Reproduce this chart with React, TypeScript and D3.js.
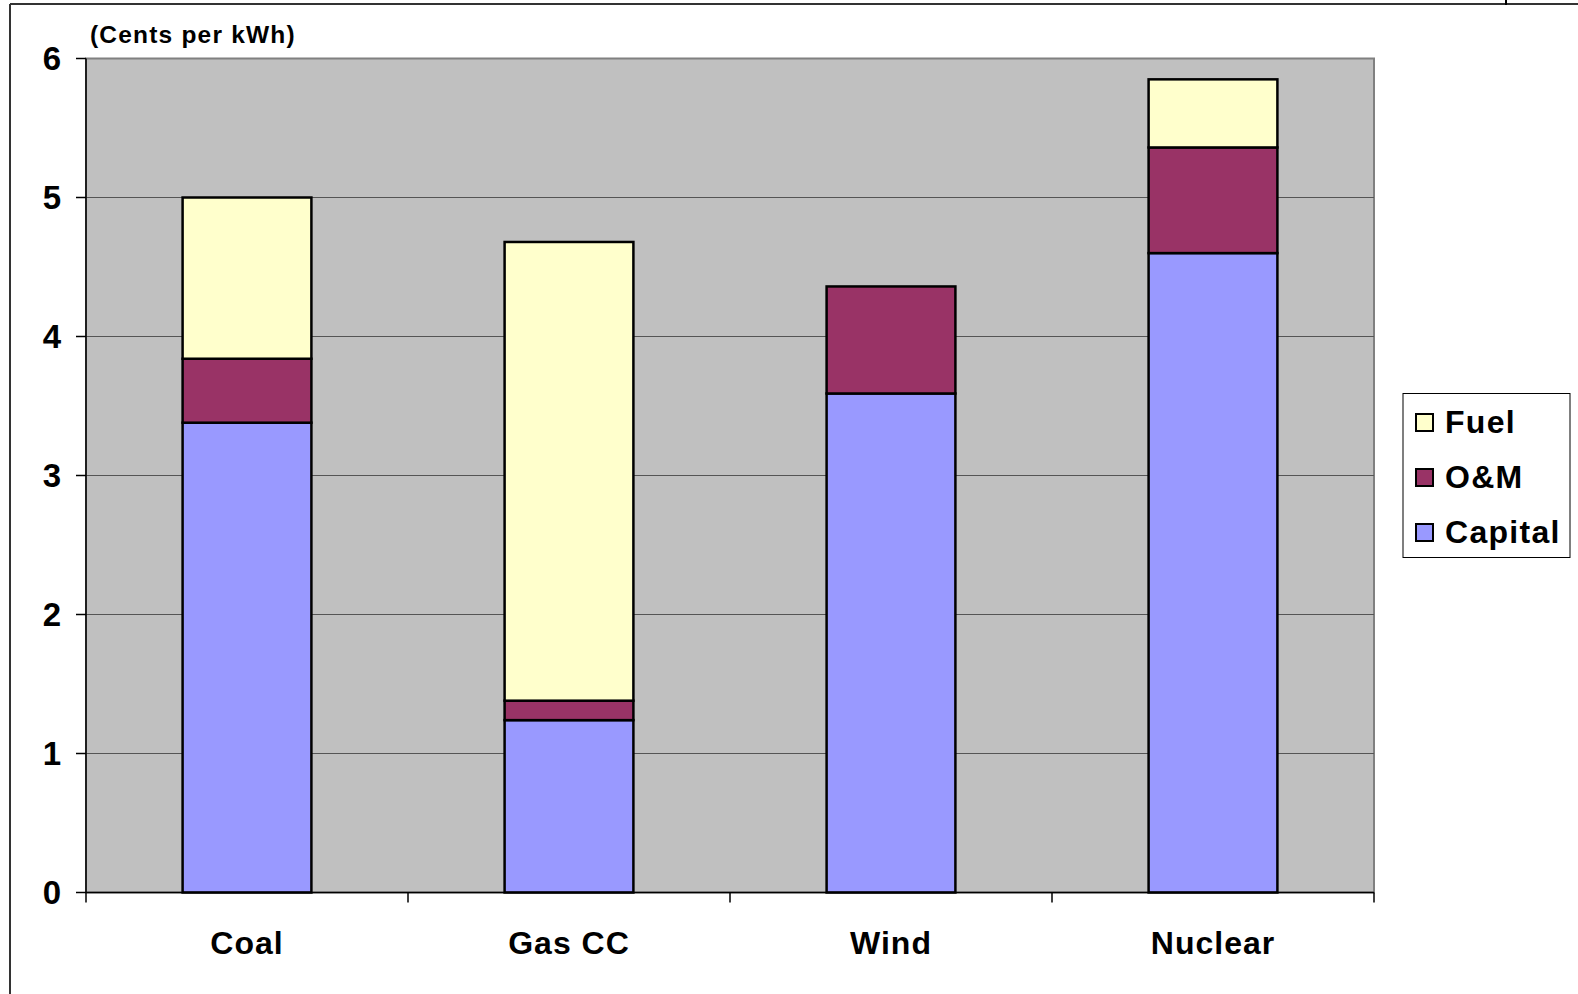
import React from 'react'
import * as d3 from 'd3'

const categories = ['Coal', 'Gas CC', 'Wind', 'Nuclear']
const seriesNames = ['Capital', 'O&M', 'Fuel']
const capital = [3.38, 1.24, 3.59, 4.6]
const om = [0.46, 0.14, 0.77, 0.76]
const fuel = [1.16, 3.3, 0, 0.49]
const yTicks = [0, 1, 2, 3, 4, 5, 6]
const colors: Record<string, string> = { Capital: '#9999FF', 'O&M': '#993366', Fuel: '#FFFFCC' }

const W = 1578
const H = 994
const left = 86
const right = 1374
const top = 58.5
const bottom = 892.5
const font = '"Liberation Sans", Arial, sans-serif'

export default function App () {
  const rows = categories.map((c, i) => ({ cat: c, Capital: capital[i], 'O&M': om[i], Fuel: fuel[i] }))
  const stacked = d3.stack<any>().keys(seriesNames)(rows)
  const xScale = d3.scaleBand().domain(categories).range([left, right]).paddingInner(0.6).paddingOuter(0.3)
  const yScale = d3.scaleLinear().domain([0, 6]).range([bottom, top])
  const step = (right - left) / categories.length
  const legendItems = ['Fuel', 'O&M', 'Capital']

  return <svg width={W} height={H} style={{ position: 'absolute', left: 0, top: 0, background: '#fff' }}>
    {/* outer frame */}
    <line x1={10} y1={4} x2={W} y2={4} stroke='#333' strokeWidth={2} />
    <line x1={10} y1={4} x2={10} y2={H} stroke='#333' strokeWidth={2} />
    <line x1={1506} y1={0} x2={1506} y2={5} stroke='#000' strokeWidth={2} />

    <text x={90} y={43} fontFamily={font} fontWeight='bold' fontSize={24.5} letterSpacing={1.2} fill='#000'>(Cents per kWh)</text>

    <rect x={left} y={top} width={right - left} height={bottom - top} fill='#C0C0C0' stroke='#808080' strokeWidth={2} />
    {yTicks.slice(1, -1).map(v =>
      <line key={v} x1={left} x2={right} y1={yScale(v)} y2={yScale(v)} stroke='#555' strokeWidth={1.2} />
    )}

    {stacked.map(s =>
      <g key={s.key}>
        {s.map((d, i) => d[1] - d[0] > 0
          ? <rect key={i} x={xScale(categories[i])} y={yScale(d[1])} width={xScale.bandwidth()}
            height={yScale(d[0]) - yScale(d[1])} fill={colors[s.key]} stroke='#000' strokeWidth={2.5} />
          : null)}
      </g>
    )}

    {/* y axis */}
    <line x1={left} y1={top} x2={left} y2={bottom} stroke='#000' strokeWidth={1.5} />
    {yTicks.map(v =>
      <g key={v} transform={`translate(${left},${yScale(v)})`}>
        <line x1={-10} x2={0} y1={0} y2={0} stroke='#000' strokeWidth={1.5} />
        <text x={-25} dy={11} textAnchor='end' fontFamily={font} fontWeight='bold' fontSize={33}>{v}</text>
      </g>
    )}

    {/* x axis */}
    <line x1={left} y1={bottom} x2={right} y2={bottom} stroke='#000' strokeWidth={1.5} />
    {d3.range(categories.length + 1).map(i =>
      <line key={i} x1={left + i * step} x2={left + i * step} y1={bottom} y2={bottom + 10} stroke='#000' strokeWidth={1.5} />
    )}
    {categories.map(c =>
      <text key={c} x={xScale(c)! + xScale.bandwidth() / 2} y={954} textAnchor='middle'
        fontFamily={font} fontWeight='bold' fontSize={32} letterSpacing={1}>{c}</text>
    )}

    {/* legend */}
    <rect x={1403} y={393.5} width={167} height={164} fill='#fff' stroke='#000' strokeWidth={1} />
    {legendItems.map((k, i) =>
      <g key={k} transform={`translate(1416,${422 + i * 55})`}>
        <rect x={0} y={-8} width={17} height={17} fill={colors[k]} stroke='#000' strokeWidth={2} />
        <text x={29} y={11} fontFamily={font} fontWeight='bold' fontSize={32} letterSpacing={1.3}>{k}</text>
      </g>
    )}
  </svg>
}
